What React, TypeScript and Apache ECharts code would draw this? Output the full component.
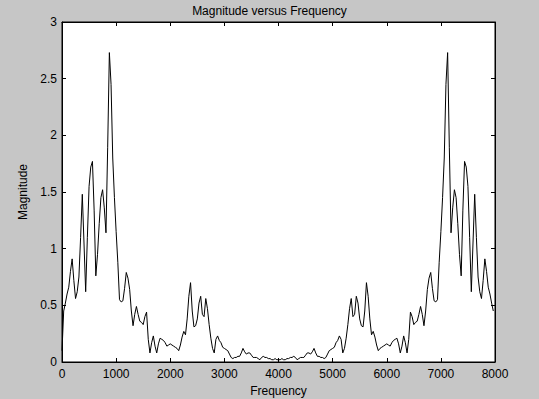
import React, { useEffect, useRef } from "react";
import * as echarts from "echarts";

const SAMPLE_RATE = 8000;
const N = 256;

const xTicks = { min: 0, max: 8000, interval: 1000 };
const yTicks = { min: 0, max: 3, interval: 0.5 };

// |X[k]| for k = 0..128
const leftHalf = [
  0.10, 0.45, 0.52, 0.60, 0.66, 0.80, 0.91, 0.72, 0.56, 0.62,
  0.75, 1.10, 1.48, 1.05, 0.62, 1.10, 1.55, 1.72, 1.77, 1.34,
  0.76, 0.95, 1.22, 1.45, 1.52, 1.36, 1.14, 1.89, 2.73, 2.45,
  1.80, 1.45, 1.15, 0.88, 0.55, 0.53, 0.54, 0.65, 0.79, 0.74,
  0.64, 0.45, 0.32, 0.42, 0.49, 0.42, 0.36, 0.35, 0.33, 0.40,
  0.44, 0.20, 0.08, 0.17, 0.23, 0.14, 0.08, 0.16, 0.21, 0.20,
  0.19, 0.17, 0.14, 0.15, 0.16, 0.15, 0.14, 0.13, 0.12, 0.10,
  0.15, 0.22, 0.27, 0.24, 0.38, 0.58, 0.70, 0.45, 0.31, 0.32,
  0.38, 0.52, 0.58, 0.42, 0.40, 0.56, 0.47, 0.33, 0.21, 0.12,
  0.08, 0.20, 0.23, 0.19, 0.17, 0.13, 0.12, 0.11, 0.10, 0.07,
  0.04, 0.03, 0.04, 0.04, 0.05, 0.05, 0.08, 0.12, 0.09, 0.07,
  0.08, 0.08, 0.06, 0.04, 0.04, 0.04, 0.03, 0.02, 0.04, 0.05,
  0.04, 0.04, 0.03, 0.03, 0.02, 0.02, 0.03, 0.02, 0.02,
];

// |X[k]| for k = 129..255
const rightHalf = [
  0.02, 0.03, 0.02, 0.02, 0.03, 0.03, 0.04, 0.04,
  0.05, 0.04, 0.02, 0.03, 0.04, 0.04, 0.04, 0.06, 0.08, 0.08,
  0.07, 0.09, 0.12, 0.08, 0.05, 0.05, 0.04, 0.04, 0.03, 0.04,
  0.07, 0.10, 0.11, 0.12, 0.13, 0.17, 0.19, 0.23, 0.20, 0.08,
  0.12, 0.21, 0.33, 0.47, 0.56, 0.40, 0.42, 0.58, 0.52, 0.38,
  0.32, 0.31, 0.45, 0.70, 0.58, 0.38, 0.24, 0.27, 0.22, 0.15,
  0.10, 0.12, 0.13, 0.14, 0.15, 0.16, 0.15, 0.14, 0.17, 0.19,
  0.20, 0.21, 0.16, 0.08, 0.14, 0.23, 0.17, 0.08, 0.20, 0.44,
  0.40, 0.33, 0.35, 0.36, 0.42, 0.49, 0.42, 0.32, 0.45, 0.64,
  0.74, 0.79, 0.65, 0.54, 0.53, 0.55, 0.88, 1.15, 1.45, 1.80,
  2.45, 2.73, 1.89, 1.14, 1.36, 1.52, 1.45, 1.22, 0.95, 0.76,
  1.34, 1.77, 1.72, 1.55, 1.10, 0.62, 1.05, 1.48, 1.10, 0.75,
  0.62, 0.56, 0.72, 0.91, 0.80, 0.66, 0.60, 0.52, 0.45,
];

const magnitude = [...leftHalf, ...rightHalf];

const FONT = "'Liberation Sans', Arial, Helvetica, sans-serif";

export default function App() {
  const ref = useRef<HTMLDivElement>(null);

  useEffect(() => {
    if (!ref.current) return;
    const chart = echarts.init(ref.current, undefined, { renderer: "svg" });
    const data = magnitude.map((v, k) => [(k * SAMPLE_RATE) / N, v]);
    const axisCommon = {
      axisLine: { show: true, onZero: false, lineStyle: { color: "#000", width: 1 } },
      axisTick: { show: true, inside: true, length: 4, lineStyle: { color: "#000" } },
      splitLine: { show: false },
    };
    const plain = (v: number) => String(v);
    chart.setOption({
      animation: false,
      backgroundColor: "#c6c6c6",
      textStyle: { fontFamily: FONT },
      title: {
        text: "Magnitude versus Frequency",
        left: "center",
        top: 0,
        textStyle: { fontSize: 12, fontWeight: "normal", color: "#000", fontFamily: FONT },
      },
      grid: {
        left: 62,
        right: 44,
        top: 22,
        bottom: 37,
        containLabel: false,
        outerBoundsMode: "none",
        show: true,
        backgroundColor: "#fff",
        borderColor: "#000",
        borderWidth: 1,
      },
      xAxis: [
        {
          type: "value",
          position: "bottom",
          ...xTicks,
          ...axisCommon,
          name: "Frequency",
          nameLocation: "middle",
          nameGap: 18,
          nameTextStyle: { fontSize: 12, color: "#000", fontFamily: FONT },
          axisLabel: { color: "#000", fontSize: 12, margin: 6, fontFamily: FONT, formatter: plain },
        },
        {
          type: "value",
          position: "top",
          ...xTicks,
          ...axisCommon,
          axisLabel: { show: false },
        },
      ],
      yAxis: [
        {
          type: "value",
          position: "left",
          ...yTicks,
          ...axisCommon,
          name: "Magnitude",
          nameLocation: "middle",
          nameGap: 26,
          nameTextStyle: { fontSize: 12, color: "#000", fontFamily: FONT },
          axisLabel: { color: "#000", fontSize: 12, margin: 5, fontFamily: FONT, formatter: plain },
        },
        {
          type: "value",
          position: "right",
          ...yTicks,
          ...axisCommon,
          axisLabel: { show: false },
        },
      ],
      series: [
        {
          type: "line",
          xAxisIndex: 0,
          yAxisIndex: 0,
          data,
          showSymbol: false,
          symbol: "none",
          lineStyle: { color: "#000", width: 1 },
        },
      ],
    });
    return () => chart.dispose();
  }, []);

  return (
    <div
      ref={ref}
      style={{ position: "fixed", left: 0, top: 0, width: 539, height: 399 }}
    />
  );
}
